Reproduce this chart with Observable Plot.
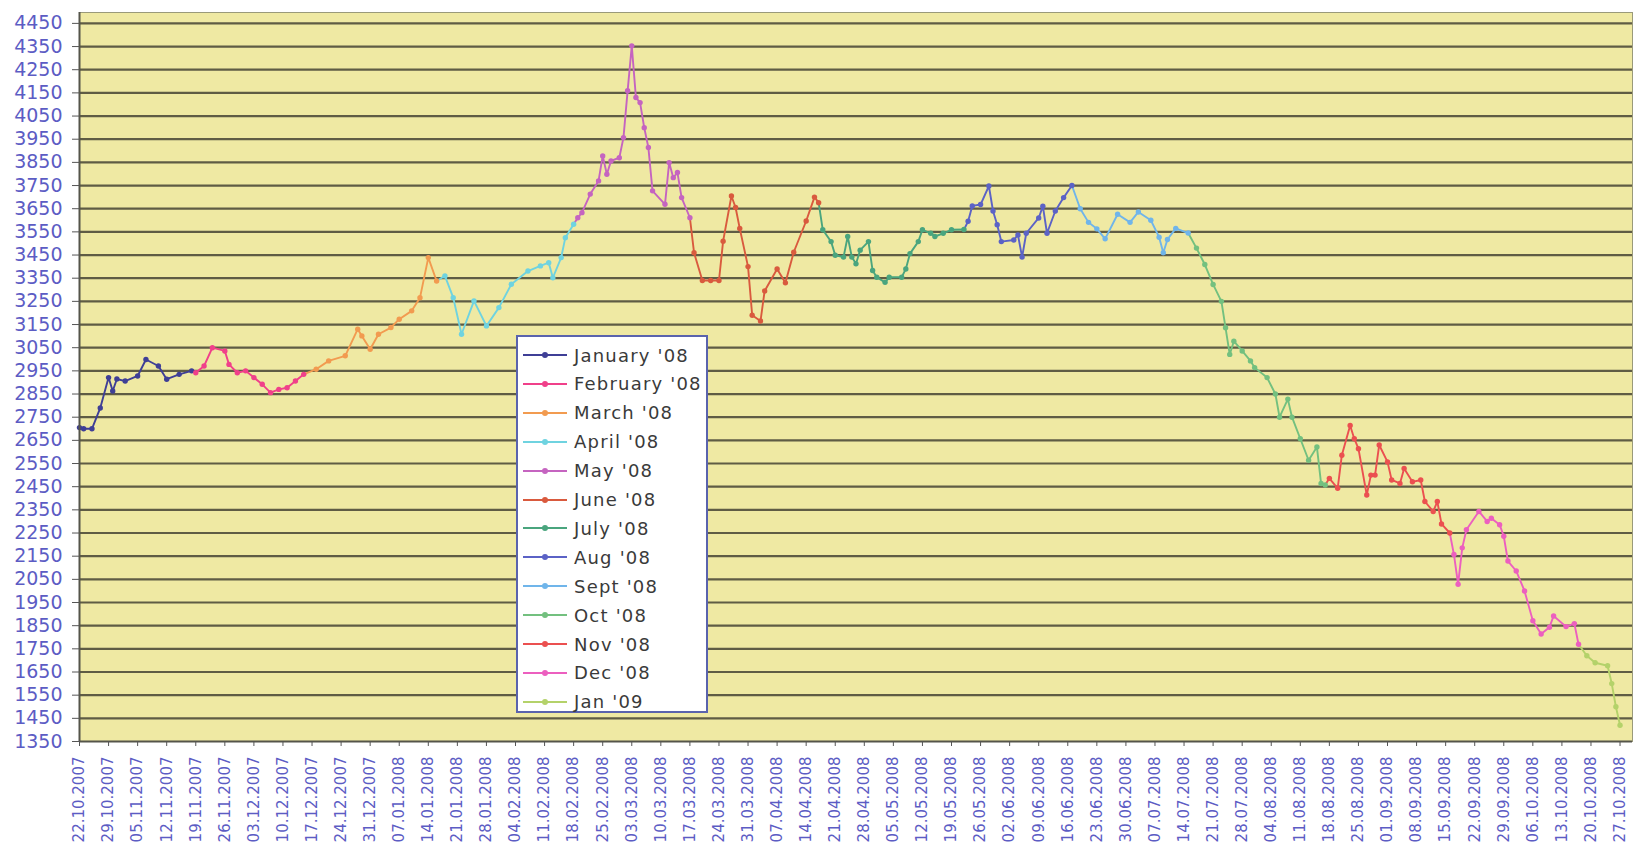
<!DOCTYPE html>
<html><head><meta charset="utf-8">
<script src="https://cdn.jsdelivr.net/npm/d3@7"></script>
<script src="https://cdn.jsdelivr.net/npm/@observablehq/plot@0.6"></script>
<style>
body{margin:0;background:#fff;}
#wrap{position:relative;width:1640px;height:859px;overflow:hidden;}
#legend{position:absolute;left:516px;top:335px;width:192px;height:378px;background:#fff;border:2px solid #5a63ad;box-sizing:border-box;font-family:"DejaVu Sans";font-size:18px;letter-spacing:1.2px;color:#3a3a3a;}
#legend .row{position:absolute;left:5px;height:20px;display:flex;align-items:center;white-space:nowrap;}
#legend svg{margin-right:7px;}
</style></head><body><div id="wrap"></div>
<script>
const seriesNames = ["January '08","February '08","March '08","April '08","May '08","June '08","July '08","Aug '08","Sept '08","Oct '08","Nov '08","Dec '08","Jan '09"];
const seriesColors = ["#3f3f96","#f0408a","#f29b50","#6fd3e0","#c564c0","#d95a3e","#4aa57e","#5b62c6","#70b5ea","#73c07f","#eb5050","#ec5fbf","#b4d26a"];

const xTickLabels = ["22.10.2007","29.10.2007","05.11.2007","12.11.2007","19.11.2007","26.11.2007","03.12.2007","10.12.2007","17.12.2007","24.12.2007","31.12.2007","07.01.2008","14.01.2008","21.01.2008","28.01.2008","04.02.2008","11.02.2008","18.02.2008","25.02.2008","03.03.2008","10.03.2008","17.03.2008","24.03.2008","31.03.2008","07.04.2008","14.04.2008","21.04.2008","28.04.2008","05.05.2008","12.05.2008","19.05.2008","26.05.2008","02.06.2008","09.06.2008","16.06.2008","23.06.2008","30.06.2008","07.07.2008","14.07.2008","21.07.2008","28.07.2008","04.08.2008","11.08.2008","18.08.2008","25.08.2008","01.09.2008","08.09.2008","15.09.2008","22.09.2008","29.09.2008","06.10.2008","13.10.2008","20.10.2008","27.10.2008"];
const yTicks = [1350,1450,1550,1650,1750,1850,1950,2050,2150,2250,2350,2450,2550,2650,2750,2850,2950,3050,3150,3250,3350,3450,3550,3650,3750,3850,3950,4050,4150,4250,4350,4450];

const jan08 = [["2007-10-22",2705],["2007-10-23",2700],["2007-10-25",2700],["2007-10-27",2790],["2007-10-29",2921],["2007-10-30",2863],["2007-10-31",2915],["2007-11-02",2906],["2007-11-05",2928],["2007-11-07",2999],["2007-11-10",2971],["2007-11-12",2914],["2007-11-15",2935],["2007-11-18",2950]];
const feb08 = [["2007-11-19",2942],["2007-11-21",2971],["2007-11-23",3050],["2007-11-26",3036],["2007-11-27",2978],["2007-11-29",2942],["2007-12-01",2950],["2007-12-03",2921],["2007-12-05",2892],["2007-12-07",2856],["2007-12-09",2870],["2007-12-11",2877],["2007-12-13",2906],["2007-12-15",2935]];
const mar08 = [["2007-12-18",2957],["2007-12-21",2993],["2007-12-25",3015],["2007-12-28",3130],["2007-12-29",3101],["2007-12-31",3043],["2008-01-02",3108],["2008-01-05",3137],["2008-01-07",3173],["2008-01-10",3209],["2008-01-12",3266],["2008-01-14",3439],["2008-01-16",3338]];
const apr08 = [["2008-01-18",3360],["2008-01-20",3266],["2008-01-22",3108],["2008-01-25",3252],["2008-01-28",3144],["2008-01-31",3223],["2008-02-03",3324],["2008-02-07",3381],["2008-02-10",3403],["2008-02-12",3417],["2008-02-13",3352],["2008-02-15",3439],["2008-02-16",3525],["2008-02-18",3583]];
const may08 = [["2008-02-19",3611],["2008-02-20",3633],["2008-02-22",3713],["2008-02-24",3770],["2008-02-25",3878],["2008-02-26",3799],["2008-02-27",3856],["2008-02-29",3870],["2008-03-01",3957],["2008-03-02",4159],["2008-03-03",4353],["2008-03-04",4130],["2008-03-05",4108],["2008-03-06",4000],["2008-03-07",3914],["2008-03-08",3727],["2008-03-11",3669],["2008-03-12",3849],["2008-03-13",3784],["2008-03-14",3806],["2008-03-15",3698],["2008-03-17",3611]];
const jun08 = [["2008-03-18",3460],["2008-03-20",3340],["2008-03-22",3340],["2008-03-24",3340],["2008-03-25",3510],["2008-03-27",3705],["2008-03-28",3655],["2008-03-29",3565],["2008-03-31",3400],["2008-04-01",3190],["2008-04-03",3165],["2008-04-04",3295],["2008-04-07",3390],["2008-04-09",3330],["2008-04-11",3462],["2008-04-14",3597],["2008-04-16",3700],["2008-04-17",3676]];
const jul08 = [["2008-04-18",3559],["2008-04-20",3508],["2008-04-21",3449],["2008-04-23",3441],["2008-04-24",3530],["2008-04-25",3441],["2008-04-26",3412],["2008-04-27",3471],["2008-04-29",3508],["2008-04-30",3383],["2008-05-01",3354],["2008-05-03",3332],["2008-05-04",3354],["2008-05-07",3354],["2008-05-08",3390],["2008-05-09",3456],["2008-05-11",3508],["2008-05-12",3559],["2008-05-14",3544],["2008-05-15",3530],["2008-05-17",3544],["2008-05-19",3559],["2008-05-22",3560]];
const aug08 = [["2008-05-23",3596],["2008-05-24",3662],["2008-05-26",3668],["2008-05-28",3748],["2008-05-29",3640],["2008-05-30",3581],["2008-05-31",3508],["2008-06-03",3515],["2008-06-04",3537],["2008-06-05",3441],["2008-06-06",3544],["2008-06-09",3610],["2008-06-10",3661],["2008-06-11",3544],["2008-06-13",3640],["2008-06-15",3698],["2008-06-17",3750]];
const sep08 = [["2008-06-19",3650],["2008-06-21",3591],["2008-06-23",3563],["2008-06-25",3520],["2008-06-28",3626],["2008-07-01",3591],["2008-07-03",3636],["2008-07-06",3600],["2008-07-08",3527],["2008-07-09",3460],["2008-07-10",3517],["2008-07-12",3565],["2008-07-15",3545]];
const oct08 = [["2008-07-17",3480],["2008-07-19",3409],["2008-07-21",3323],["2008-07-23",3250],["2008-07-24",3136],["2008-07-25",3021],["2008-07-26",3078],["2008-07-28",3036],["2008-07-30",2993],["2008-07-31",2964],["2008-08-03",2921],["2008-08-05",2850],["2008-08-06",2750],["2008-08-08",2828],["2008-08-09",2750],["2008-08-11",2657],["2008-08-13",2564],["2008-08-15",2621],["2008-08-16",2464],["2008-08-17",2457]];
const nov08 = [["2008-08-18",2486],["2008-08-20",2443],["2008-08-21",2586],["2008-08-23",2714],["2008-08-24",2657],["2008-08-25",2614],["2008-08-27",2414],["2008-08-28",2500],["2008-08-29",2500],["2008-08-30",2630],["2008-09-01",2557],["2008-09-02",2479],["2008-09-04",2464],["2008-09-05",2529],["2008-09-07",2471],["2008-09-09",2479],["2008-09-10",2386],["2008-09-12",2343],["2008-09-13",2386],["2008-09-14",2289],["2008-09-16",2250]];
const dec08 = [["2008-09-17",2157],["2008-09-18",2029],["2008-09-19",2186],["2008-09-20",2264],["2008-09-23",2343],["2008-09-25",2300],["2008-09-26",2314],["2008-09-28",2286],["2008-09-29",2236],["2008-09-30",2129],["2008-10-02",2086],["2008-10-04",2000],["2008-10-06",1871],["2008-10-08",1814],["2008-10-10",1843],["2008-10-11",1892],["2008-10-14",1846],["2008-10-16",1859],["2008-10-17",1770]];
const jan09 = [["2008-10-19",1720],["2008-10-21",1690],["2008-10-24",1677],["2008-10-25",1600],["2008-10-26",1500],["2008-10-27",1420]];

const seriesData = [jan08,feb08,mar08,apr08,may08,jun08,jul08,aug08,sep08,oct08,nov08,dec08,jan09];

const parseTick = d3.utcParse("%d.%m.%Y");
const xTicks = xTickLabels.map(parseTick);

const points = [];
const lineRows = [];
seriesData.forEach((arr, i) => {
  const name = seriesNames[i];
  if (i > 0) {
    const prev = seriesData[i-1][seriesData[i-1].length-1];
    lineRows.push({date: new Date(prev[0]), value: prev[1], series: name});
  }
  arr.forEach(([d, v]) => {
    const row = {date: new Date(d), value: v, series: name};
    lineRows.push(row);
    points.push(row);
  });
});

const chart = Plot.plot({
  width: 1640, height: 859,
  marginLeft: 79, marginRight: 8, marginTop: 12, marginBottom: 118,
  style: {fontFamily: "DejaVu Sans", background: "transparent", overflow: "visible"},
  x: {type: "utc", domain: [new Date("2007-10-22"), new Date("2008-10-30")], label: null},
  y: {domain: [1350, 4497], label: null},
  color: {domain: seriesNames, range: seriesColors},
  marks: [
    Plot.frame({fill: "#efe9a3", stroke: "#9a9a7a", strokeWidth: 1}),
    Plot.ruleY(yTicks.slice(1), {stroke: "#4f4d3a", strokeWidth: 2.2, strokeOpacity: 0.9}),
    Plot.line(lineRows, {x: "date", y: "value", z: "series", stroke: "series", strokeWidth: 1.9, curve: "linear"}),
    Plot.dot(points, {x: "date", y: "value", fill: "series", r: 2.7, stroke: "none"}),
    Plot.ruleX([new Date("2007-10-22")], {stroke: "#55554a", strokeWidth: 2}),
    Plot.ruleY([1350], {stroke: "#55554a", strokeWidth: 2}),
    Plot.axisY({ticks: yTicks, tickSize: 7, tickPadding: 10, fontSize: 19, color: "#5c5cc4", stroke: "#555", tickFormat: d => String(d), label: null}),
    Plot.axisX({ticks: xTicks, tickFormat: d3.utcFormat("%d.%m.%Y"), tickRotate: -90, tickSize: 5, tickPadding: 10, fontSize: 15, color: "#5c5cc4", stroke: "#555", label: null})
  ]
});

const wrap = document.getElementById("wrap");
wrap.appendChild(chart);

const legend = document.createElement("div");
legend.id = "legend";
seriesNames.forEach((name, i) => {
  const row = document.createElement("div");
  row.className = "row";
  row.style.top = (8 + i * 28.9) + "px";
  row.innerHTML = `<svg width="44" height="12"><line x1="0" y1="6" x2="44" y2="6" stroke="${seriesColors[i]}" stroke-width="2"/><circle cx="22" cy="6" r="3" fill="${seriesColors[i]}"/></svg><span>${name}</span>`;
  legend.appendChild(row);
});
wrap.appendChild(legend);
</script>
</body></html>
